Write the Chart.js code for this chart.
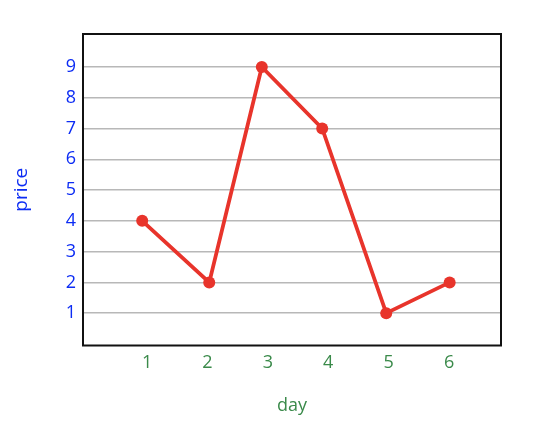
<!DOCTYPE html>
<html>
<head>
<meta charset="utf-8">
<script src="https://cdn.jsdelivr.net/npm/chart.js@4"></script>
<style>
  html, body { margin: 0; padding: 0; background: #fff; }
  #wrap { width: 546px; height: 440px; }
</style>
</head>
<body>
<div id="wrap"><canvas id="priceChart"></canvas></div>
<script>
// values
const dayTicks = [1, 2, 3, 4, 5, 6];
const dayPos = [0.92, 2.03, 2.9, 3.9, 4.96, 6.01];
const priceValues = [4, 2, 9, 7, 1, 2];
const priceTicks = [1, 2, 3, 4, 5, 6, 7, 8, 9];

const RED = '#e8342b';
const BLUE = '#0c2cf4';
const GREEN = '#3a8a4a';

// frame around the plot area
const frame = {
    id: 'frame',
    afterDraw(chart) {
        const { ctx, chartArea: a } = chart;
        ctx.save();
        ctx.strokeStyle = '#111';
        ctx.lineWidth = 2;
        ctx.strokeRect(a.left, a.top, a.right - a.left, a.bottom - a.top);
        ctx.restore();
    }
};

const ctx = document.getElementById('priceChart');
new Chart(ctx, {
    type: 'line',
    data: {
        datasets: [{
            label: 'price',
            data: dayPos.map((d, i) => ({ x: d, y: priceValues[i] })),
            borderColor: RED,
            backgroundColor: RED,
            borderWidth: 3.8,
            pointRadius: 6,
            pointBorderWidth: 0,
            tension: 0
        }]
    },
    options: {
        responsive: true,
        maintainAspectRatio: false,
        animation: false,
        layout: { padding: { top: 34, right: 45, left: 0, bottom: 0 } },
        plugins: {
            legend: { display: false },
            tooltip: { enabled: false }
        },
        scales: {
            x: {
                type: 'linear',
                min: -0.06,
                max: 6.86,
                afterBuildTicks: (s) => { s.ticks = dayTicks.map(v => ({ value: v })); },
                afterFit: (s) => { s.height = 94.5; },
                grid: { display: false, drawTicks: false },
                border: { display: false },
                ticks: {
                    color: GREEN,
                    padding: 7,
                    maxRotation: 0,
                    font: { family: 'Open Sans', size: 18 }
                },
                title: {
                    display: true,
                    text: 'day',
                    color: GREEN,
                    padding: { top: 0, bottom: 23 },
                    font: { family: 'Open Sans', size: 18 }
                }
            },
            y: {
                min: -0.05,
                max: 10.07,
                afterBuildTicks: (s) => { s.ticks = priceTicks.map(v => ({ value: v })); },
                afterFit: (s) => { s.width = 83; },
                grid: { color: '#b8b8b8', lineWidth: 1.5, drawTicks: false },
                border: { display: false },
                ticks: {
                    color: BLUE,
                    padding: 7,
                    font: { family: 'Open Sans', size: 18 }
                },
                title: {
                    display: true,
                    text: 'price',
                    color: BLUE,
                    padding: { top: 10, bottom: 0 },
                    font: { family: 'Open Sans', size: 19 }
                }
            }
        }
    },
    plugins: [frame]
});
</script>
</body>
</html>
